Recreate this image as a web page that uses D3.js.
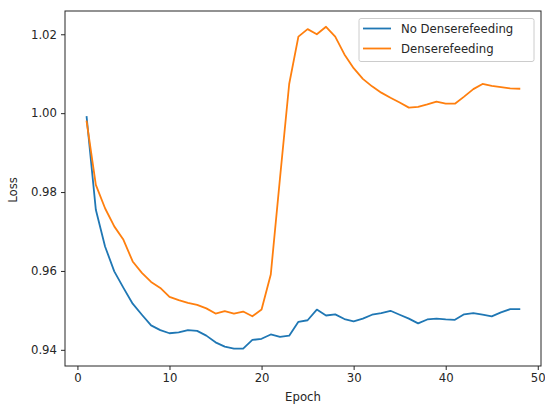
<!DOCTYPE html>
<html>
<head>
<meta charset="utf-8">
<script src="https://cdn.jsdelivr.net/npm/d3@7"></script>
<style>
  body { margin: 0; background: #fff; }
  text { font-family: "DejaVu Sans", sans-serif; fill: #262626; }
</style>
</head>
<body>
<script>
// epochs 1..48
var epochs = d3.range(1, 49);

// loss without dense refeeding
var noDense = [0.9990, 0.9755, 0.9662, 0.9599, 0.9557, 0.9517, 0.9489, 0.9462, 0.9450, 0.9442,
  0.9444, 0.9450, 0.9448, 0.9436, 0.9419, 0.9408, 0.9403, 0.9403, 0.9425, 0.9428,
  0.9439, 0.9433, 0.9436, 0.9471, 0.9475, 0.9502, 0.9487, 0.9490, 0.9478, 0.9472,
  0.9479, 0.9489, 0.9493, 0.9499, 0.9489, 0.9479, 0.9467, 0.9477, 0.9479, 0.9477,
  0.9476, 0.9490, 0.9493, 0.9489, 0.9485, 0.9495, 0.9503, 0.9503];

// loss with dense refeeding
var dense = [0.9979, 0.9818, 0.9759, 0.9713, 0.9679, 0.9624, 0.9595, 0.9572, 0.9557, 0.9534,
  0.9526, 0.9519, 0.9514, 0.9505, 0.9492, 0.9498, 0.9492, 0.9497, 0.9485, 0.9502,
  0.9591, 0.9835, 1.0074, 1.0194, 1.0213, 1.0200, 1.0219, 1.0194, 1.0149, 1.0114,
  1.0087, 1.0068, 1.0052, 1.0039, 1.0027, 1.0014, 1.0016, 1.0022, 1.0029, 1.0024,
  1.0024, 1.0042, 1.0061, 1.0074, 1.0069, 1.0066, 1.0063, 1.0062];

var xTicks = [0, 10, 20, 30, 40, 50];
var yTicks = [0.94, 0.96, 0.98, 1.00, 1.02];

var series = [
  { name: "No Denserefeeding", values: noDense, color: "#1f77b4" },
  { name: "Denserefeeding", values: dense, color: "#ff7f0e" }
];

var width = 545, height = 404;
var margin = { left: 65, right: 4, top: 11, bottom: 38 };

var svg = d3.select("body").append("svg")
    .attr("width", width)
    .attr("height", height);

var x = d3.scaleLinear()
    .domain([-1.35, 50.35])
    .range([margin.left, width - margin.right]);

var y = d3.scaleLinear()
    .domain([0.9359, 1.0259])
    .range([height - margin.bottom, margin.top]);

// lines
var line = d3.line()
    .x(function(d, i) { return x(epochs[i]); })
    .y(function(d) { return y(d); });

svg.selectAll(".series")
    .data(series)
    .enter()
    .append("path")
    .attr("class", "series")
    .attr("d", function(d) { return line(d.values); })
    .attr("fill", "none")
    .attr("stroke", function(d) { return d.color; })
    .attr("stroke-width", 1.8)
    .attr("stroke-linejoin", "round")
    .attr("stroke-linecap", "square");

// axes
var xAxis = svg.append("g")
    .attr("transform", "translate(0," + (height - margin.bottom) + ")")
    .call(d3.axisBottom(x).tickValues(xTicks).tickSize(4).tickPadding(4).tickFormat(d3.format("d")));

var yAxis = svg.append("g")
    .attr("transform", "translate(" + margin.left + ",0)")
    .call(d3.axisLeft(y).tickValues(yTicks).tickSize(4).tickPadding(4).tickFormat(d3.format(".2f")));

[xAxis, yAxis].forEach(function(a) {
  a.select(".domain").remove();
  a.selectAll("line").attr("stroke", "#262626").attr("stroke-width", 1);
  a.selectAll("text").style("font-size", "11.7px").attr("fill", "#262626");
});

// frame
svg.append("rect")
    .attr("x", margin.left)
    .attr("y", margin.top)
    .attr("width", width - margin.right - margin.left)
    .attr("height", height - margin.bottom - margin.top)
    .attr("fill", "none")
    .attr("stroke", "#262626")
    .attr("stroke-width", 1);

// axis labels
svg.append("text")
    .attr("x", (margin.left + width - margin.right) / 2)
    .attr("y", 401)
    .attr("text-anchor", "middle")
    .style("font-size", "11.7px")
    .text("Epoch");

svg.append("text")
    .attr("transform", "translate(17,190) rotate(-90)")
    .attr("text-anchor", "middle")
    .style("font-size", "11.7px")
    .text("Loss");

// legend
var legend = svg.append("g");
legend.append("rect")
    .attr("x", 359)
    .attr("y", 18.5)
    .attr("width", 175)
    .attr("height", 43)
    .attr("rx", 2)
    .attr("fill", "#fff")
    .attr("fill-opacity", 0.8)
    .attr("stroke", "#cccccc")
    .attr("stroke-width", 1);

var items = legend.selectAll(".item")
    .data(series)
    .enter()
    .append("g")
    .attr("class", "item")
    .attr("transform", function(d, i) { return "translate(0," + (28.5 + i * 20) + ")"; });

items.append("line")
    .attr("x1", 363).attr("x2", 391)
    .attr("stroke", function(d) { return d.color; })
    .attr("stroke-width", 1.8);

items.append("text")
    .attr("x", 401)
    .attr("dy", "0.35em")
    .style("font-size", "11.7px")
    .text(function(d) { return d.name; });
</script>
</body>
</html>
